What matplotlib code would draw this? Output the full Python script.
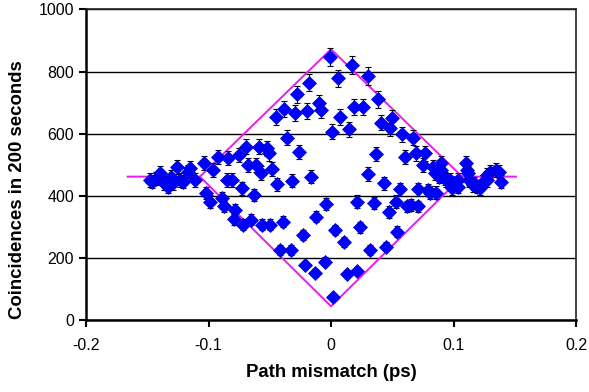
import numpy as np
import matplotlib
matplotlib.use("Agg")
import matplotlib.pyplot as plt

plt.rcParams['font.family'] = ['Liberation Sans', 'DejaVu Sans']

# Measured data: path mismatch (ps) and coincidence counts
mismatch = [
    -0.148, -0.146, -0.143, -0.140, -0.136, -0.133, -0.131, -0.129, -0.126, -0.123,
    -0.121, -0.117, -0.115, -0.111, -0.104, -0.102, -0.099, -0.096, -0.092, -0.089,
    -0.087, -0.085, -0.084, -0.081, -0.078, -0.079, -0.075, -0.073, -0.072, -0.069,
    -0.068, -0.065, -0.063, -0.061, -0.059, -0.057, -0.056, -0.052, -0.051, -0.050,
    -0.048, -0.045, -0.044, -0.042, -0.039, -0.038, -0.036, -0.033, -0.032, -0.029,
    -0.028, -0.026, -0.023, -0.021, -0.020, -0.018, -0.016, -0.013, -0.012, -0.010,
    -0.008, -0.005, -0.004, -0.001, 0.001, 0.002, 0.003, 0.006, 0.007, 0.011,
    0.013, 0.015, 0.017, 0.019, 0.021, 0.021, 0.024, 0.026, 0.030, 0.030,
    0.032, 0.035, 0.037, 0.038, 0.041, 0.043, 0.045, 0.047, 0.048, 0.050,
    0.053, 0.054, 0.056, 0.058, 0.060, 0.062, 0.065, 0.067, 0.069, 0.071,
    0.071, 0.075, 0.077, 0.079, 0.081, 0.083, 0.085, 0.086, 0.088, 0.090,
    0.090, 0.093, 0.094, 0.097, 0.099, 0.100, 0.104, 0.104, 0.110, 0.111,
    0.112, 0.113, 0.116, 0.117, 0.119, 0.122, 0.124, 0.127, 0.127, 0.130,
    0.135, 0.137, 0.139,
]
counts = [
    451, 446, 456, 475, 441, 430, 462, 441, 494, 451,
    445, 478, 489, 451, 507, 409, 382, 484, 526, 393,
    366, 451, 521, 451, 355, 325, 532, 425, 307, 558,
    500, 323, 403, 500, 558, 473, 307, 553, 537, 307,
    486, 655, 438, 226, 317, 679, 587, 226, 449, 666,
    727, 542, 275, 178, 674, 764, 462, 153, 333, 698,
    676, 189, 374, 848, 607, 76, 291, 778, 655, 253,
    149, 614, 821, 685, 382, 160, 299, 685, 786, 471,
    226, 378, 535, 711, 636, 441, 237, 349, 618, 650,
    382, 285, 421, 598, 524, 366, 371, 587, 537, 421,
    366, 500, 537, 419, 411, 494, 473, 411, 462, 484,
    505, 457, 451, 451, 425, 441, 451, 430, 505, 484,
    473, 451, 435, 441, 430, 425, 446, 467, 451, 478,
    484, 478, 446,
]

# Model envelope (magenta lines)
upper_x = [-0.166, -0.107, 0.0, 0.107, 0.151]
upper_y = [462, 462, 872, 462, 462]
lower_x = [-0.107, 0.0, 0.107]
lower_y = [462, 45, 462]

x_ticks = [-0.2, -0.1, 0, 0.1, 0.2]
x_tick_labels = ['-0.2', '-0.1', '0', '0.1', '0.2']
y_ticks = [0, 200, 400, 600, 800, 1000]

fig = plt.figure(figsize=(5.89, 3.92), dpi=100)
ax = fig.add_axes([0.146, 0.183, 0.832, 0.793])

ax.plot(upper_x, upper_y, color='#E81EE8', lw=1.4, zorder=2)
ax.plot(lower_x, lower_y, color='#E81EE8', lw=1.4, zorder=2)

cnt = np.array(counts, dtype=float)
ax.errorbar(mismatch, cnt, yerr=np.sqrt(cnt), fmt='none', ecolor='black',
            elinewidth=0.8, capsize=2, capthick=0.8, zorder=3)
ax.plot(mismatch, cnt, linestyle='none', marker='D', markersize=7,
        markerfacecolor='#0000FF', markeredgecolor='#0000CC', markeredgewidth=0.5, zorder=4)

ax.set_xlim(-0.2, 0.2)
ax.set_ylim(0, 1000)
ax.set_xticks(x_ticks)
ax.set_xticklabels(x_tick_labels)
ax.set_yticks(y_ticks)

ax.yaxis.grid(True, color='black', lw=1.0)
ax.set_axisbelow(True)

for s in ['left', 'bottom']:
    ax.spines[s].set_linewidth(1.8)
    ax.spines[s].set_color('black')
for s in ['top', 'right']:
    ax.spines[s].set_linewidth(1.2)
    ax.spines[s].set_color('#222222')

ax.tick_params(axis='both', direction='out', length=5, width=1.5, labelsize=11.5, colors='black')
ax.tick_params(axis='x', pad=8)

ax.set_xlabel('Path mismatch (ps)', fontsize=13.4, fontweight='bold')
ax.set_ylabel('Coincidences in 200 seconds', fontsize=13.4, fontweight='bold')
ax.xaxis.label.set_va('center')
ax.xaxis.set_label_coords(0.5, -0.169)
ax.yaxis.label.set_va('center')
ax.yaxis.label.set_ha('center')
ax.yaxis.set_label_coords(-0.14, 0.42)

fig.savefig('out.png', dpi=100)
